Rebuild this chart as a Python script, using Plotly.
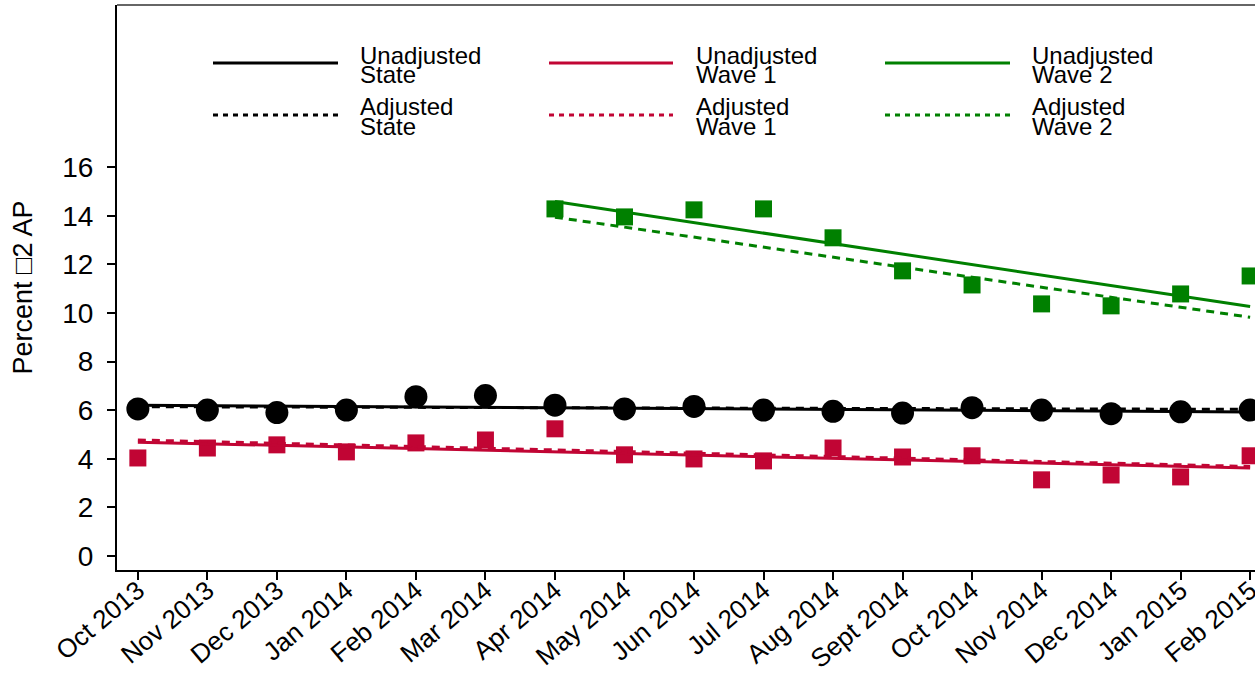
import plotly.graph_objects as go

months = ["Oct 2013", "Nov 2013", "Dec 2013", "Jan 2014", "Feb 2014", "Mar 2014",
          "Apr 2014", "May 2014", "Jun 2014", "Jul 2014", "Aug 2014", "Sept 2014",
          "Oct 2014", "Nov 2014", "Dec 2014", "Jan 2015", "Feb 2015"]

state_obs = [6.05, 6.0, 5.9, 6.0, 6.55, 6.6, 6.2, 6.05, 6.15, 6.0, 5.95, 5.88,
             6.1, 6.0, 5.85, 5.93, 6.0]
wave1_obs = [4.03, 4.44, 4.57, 4.28, 4.65, 4.77, 5.23, 4.16, 3.99, 3.91, 4.44, 4.07,
             4.12, 3.13, 3.33, 3.25, 4.12]
wave2_months = months[6:]
wave2_obs = [14.28, 13.95, 14.24, 14.28, 13.09, 11.73, 11.15, 10.37, 10.29, 10.78, 11.52]

# fitted trend lines (start / end values)
state_fit_months = [months[0], months[-1]]
state_unadj_fit = [6.2, 5.92]
state_adj_fit = [6.14, 6.03]
wave1_fit_months = [months[0], months[-1]]
wave1_unadj_fit = [4.68, 3.62]
wave1_adj_fit = [4.77, 3.68]
wave2_fit_months = [months[6], months[-1]]
wave2_unadj_fit = [14.58, 10.26]
wave2_adj_fit = [13.94, 9.82]

y_ticks = [0, 2, 4, 6, 8, 10, 12, 14, 16]

BLACK = "#000000"
RED = "#C10534"
GREEN = "#008000"
FONT = "Liberation Sans, Arial, sans-serif"

idx = {m: i for i, m in enumerate(months)}

def xs(ms):
    return [idx[m] for m in ms]

fig = go.Figure()

# observed markers
fig.add_trace(go.Scatter(x=xs(months), y=state_obs, mode="markers",
                         marker=dict(symbol="circle", size=23, color=BLACK), showlegend=False))
fig.add_trace(go.Scatter(x=xs(months), y=wave1_obs, mode="markers",
                         marker=dict(symbol="square", size=17, color=RED), showlegend=False))
fig.add_trace(go.Scatter(x=xs(wave2_months), y=wave2_obs, mode="markers",
                         marker=dict(symbol="square", size=17, color=GREEN), showlegend=False))

DASH = "8px,6px"
fits = [
    (state_fit_months, state_unadj_fit, BLACK, "solid"),
    (state_fit_months, state_adj_fit, BLACK, DASH),
    (wave1_fit_months, wave1_unadj_fit, RED, "solid"),
    (wave1_fit_months, wave1_adj_fit, RED, DASH),
    (wave2_fit_months, wave2_unadj_fit, GREEN, "solid"),
    (wave2_fit_months, wave2_adj_fit, GREEN, DASH),
]
for ms, ys, c, d in fits:
    fig.add_trace(go.Scatter(x=xs(ms), y=ys, mode="lines",
                             line=dict(color=c, width=3, dash=d), showlegend=False))

# manual legend (paper coordinates)
L_PX, R_PX, T_PX, B_PX = 117, 1255, 5, 570
def px(x):
    return (x - L_PX) / (R_PX - L_PX)
def py(y):
    return (B_PX - y) / (B_PX - T_PX)

legend_cols = [(213, 338, 358, BLACK, "State"), (549, 673, 694, RED, "Wave 1"),
               (885, 1010, 1030, GREEN, "Wave 2")]
legend_rows = [(63, "solid", "Unadjusted", 55, 74.5), (115, "5px,5px", "Adjusted", 106, 126.5)]
shapes = [dict(type="line", xref="paper", yref="paper", x0=0, x1=1, y0=1, y1=1,
               line=dict(color="#666666", width=2))]
annotations = []
for x0, x1, tx, c, name in legend_cols:
    for ly, dash, kind, t1, t2 in legend_rows:
        shapes.append(dict(type="line", xref="paper", yref="paper",
                           x0=px(x0), x1=px(x1), y0=py(ly), y1=py(ly),
                           line=dict(color=c, width=3, dash=dash)))
        for txt, ty in ((kind, t1), (name, t2)):
            annotations.append(dict(xref="paper", yref="paper", x=px(tx), y=py(ty),
                                    text=txt, showarrow=False, xanchor="left",
                                    yanchor="middle", font=dict(size=24, color="black", family=FONT)))

fig.update_layout(
    width=1255, height=673,
    margin=dict(l=L_PX, r=0, t=T_PX, b=673 - B_PX),
    paper_bgcolor="white", plot_bgcolor="white",
    font=dict(family=FONT, color="black"),
    shapes=shapes, annotations=annotations,
    xaxis=dict(range=[-0.3, 16.07], tickmode="array", tickvals=list(range(len(months))),
               ticktext=months, tickangle=-40, ticks="outside", ticklen=8, tickwidth=1.5,
               tickcolor="black", showline=True, linecolor="black", linewidth=2,
               showgrid=False, zeroline=False, automargin=False, ticklabelstandoff=-15,
               ticklabeloverflow="allow", tickfont=dict(size=26, family=FONT)),
    yaxis=dict(range=[-0.58, 22.67], tickmode="array", tickvals=y_ticks,
               ticks="outside", ticklen=8, tickwidth=1.5, tickcolor="black",
               showline=True, linecolor="black", linewidth=2, showgrid=False,
               zeroline=False, automargin=False, ticklabelstandoff=8,
               tickfont=dict(size=28, family=FONT),
               title=dict(text="Percent \u25a12 AP", font=dict(size=27, family=FONT), standoff=22)),
)

fig.write_html("out.html", config={"displayModeBar": False},
               post_script="document.body.style.margin='0';document.body.style.overflow='hidden';")
